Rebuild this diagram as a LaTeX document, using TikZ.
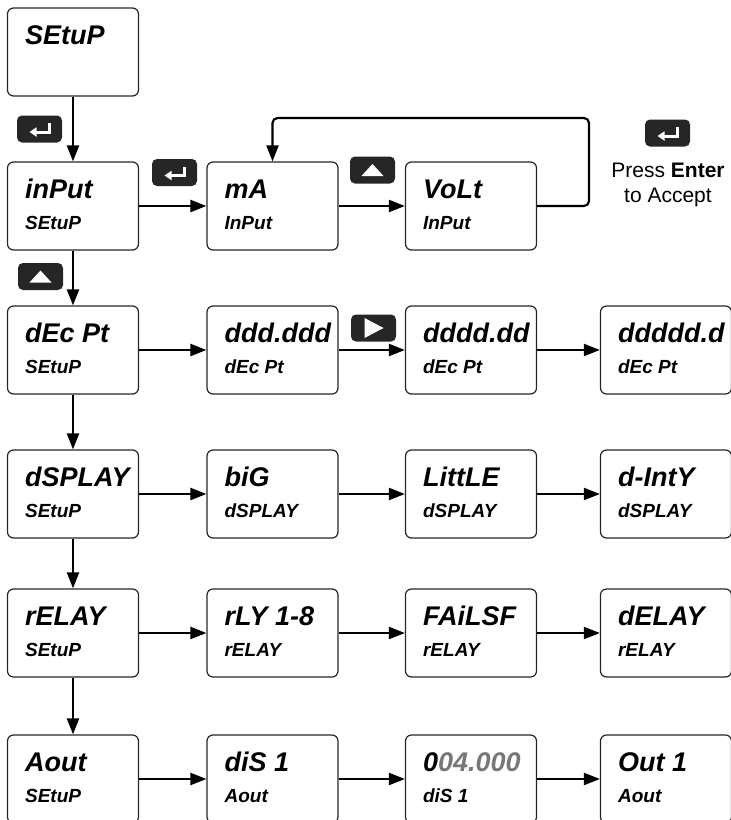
\documentclass[tikz,border=0pt]{standalone}
\usepackage{fontspec}
\setmainfont{Liberation Sans}
\usetikzlibrary{arrows.meta}
\definecolor{keyFill}{HTML}{262626}
\definecolor{segGray}{HTML}{777777}

\newcommand{\displayBox}[5]{%
  \node[dispbox] (#1) at (#2, #3) {};
  \node[toptext] (#1Top) at ([shift={(18, 37)}]#1.north west) {#4};
  \node[subtext] (#1Sub) at ([shift={(18, 68)}]#1.north west) {#5};
}

\newcommand{\keyBox}[4]{%
  \node[keybox] (#1) at (#2, #3) {};
  \begin{scope}[shift={(#2, #3)}]
    #4
  \end{scope}%
}

\newcommand{\enterSym}{\draw[white, line width=3pt, -{Triangle[length=7pt,width=9pt]}] (10, -6) -- (10, 3) -- (-10, 3);}
\newcommand{\upSym}{\fill[white] (-11, 6) -- (11, 6) -- (0, -6) -- cycle;}
\newcommand{\rightSym}{\fill[white] (-9, -10) -- (-9, 10) -- (10, 0) -- cycle;}

\begin{document}
\begin{tikzpicture}[x=1pt, y=-1pt,
  >={Triangle[length=16pt,width=12pt]},
  dispbox/.style={draw=black!85, line width=1.2pt, rounded corners=6pt,
    minimum width=131pt, minimum height=88pt, inner sep=0pt},
  toptext/.style={anchor=base west, inner sep=0pt,
    font=\fontsize{27}{27}\selectfont\bfseries\itshape},
  subtext/.style={anchor=base west, inner sep=0pt,
    font=\fontsize{19}{19}\selectfont\bfseries\itshape},
  keybox/.style={fill=keyFill, rounded corners=5pt,
    minimum width=45pt, minimum height=27pt, inner sep=0pt},
  flow/.style={->, line width=2.2pt},
  note/.style={anchor=base, inner sep=0pt, font=\fontsize{21}{25}\selectfont}]
  \useasboundingbox (0, 0) rectangle (731, 820);

  % Create display boxes using \displayBox
  \displayBox{setup}{73}{52}{SEtuP}{}

  \displayBox{input}{73}{206}{inPut}{SEtuP}
  \displayBox{ma}{272.5}{206}{mA}{InPut}
  \displayBox{volt}{471}{206}{VoLt}{InPut}

  \displayBox{decpt}{73}{350}{dEc Pt}{SEtuP}
  \displayBox{dpThree}{272.5}{350}{ddd.ddd}{dEc Pt}
  \displayBox{dpTwo}{471}{350}{dddd.dd}{dEc Pt}
  \displayBox{dpOne}{666}{350}{ddddd.d}{dEc Pt}

  \displayBox{dsplay}{73}{494}{dSPLAY}{SEtuP}
  \displayBox{big}{272.5}{494}{biG}{dSPLAY}
  \displayBox{little}{471}{494}{LittLE}{dSPLAY}
  \displayBox{dinty}{666}{494}{d-IntY}{dSPLAY}

  \displayBox{relay}{73}{633}{rELAY}{SEtuP}
  \displayBox{rly}{272.5}{633}{rLY 1-8}{rELAY}
  \displayBox{failsf}{471}{633}{FAiLSF}{rELAY}
  \displayBox{delay}{666}{633}{dELAY}{rELAY}

  \displayBox{aout}{73}{779}{Aout}{SEtuP}
  \displayBox{dis}{272.5}{779}{diS 1}{Aout}
  \displayBox{disval}{471}{779}{0\textcolor{segGray}{04.000}}{diS 1}
  \displayBox{out}{666}{779}{Out 1}{Aout}

  % Keys
  \keyBox{enterA}{39.5}{129}{\enterSym}
  \keyBox{enterB}{174.5}{172.5}{\enterSym}
  \keyBox{upA}{372.5}{170}{\upSym}
  \keyBox{upB}{40.5}{276.5}{\upSym}
  \keyBox{rightA}{373.5}{328}{\rightSym}
  \keyBox{enterC}{667.5}{133}{\enterSym}

  \node[note] (press) at (668, 177) {Press \textbf{Enter}};
  \node[note] (accept) at (668, 202) {to Accept};

  % Connect them using named anchors
  \coordinate (loop) at (589, 118);
  \draw[flow] (setup.south) -- (input.north);
  \draw[flow] (input) -- (ma);
  \draw[flow] (ma) -- (volt);
  \draw[flow, rounded corners=5pt] (volt.east) -| (loop) -| (ma.north);

  \draw[flow] (input.south) -- (decpt.north);
  \draw[flow] (decpt) -- (dpThree);
  \draw[flow] (dpThree) -- (dpTwo);
  \draw[flow] (dpTwo) -- (dpOne);

  \draw[flow] (decpt.south) -- (dsplay.north);
  \draw[flow] (dsplay) -- (big);
  \draw[flow] (big) -- (little);
  \draw[flow] (little) -- (dinty);

  \draw[flow] (dsplay.south) -- (relay.north);
  \draw[flow] (relay) -- (rly);
  \draw[flow] (rly) -- (failsf);
  \draw[flow] (failsf) -- (delay);

  \draw[flow] (relay.south) -- (aout.north);
  \draw[flow] (aout) -- (dis);
  \draw[flow] (dis) -- (disval);
  \draw[flow] (disval) -- (out);
\end{tikzpicture}
\end{document}
